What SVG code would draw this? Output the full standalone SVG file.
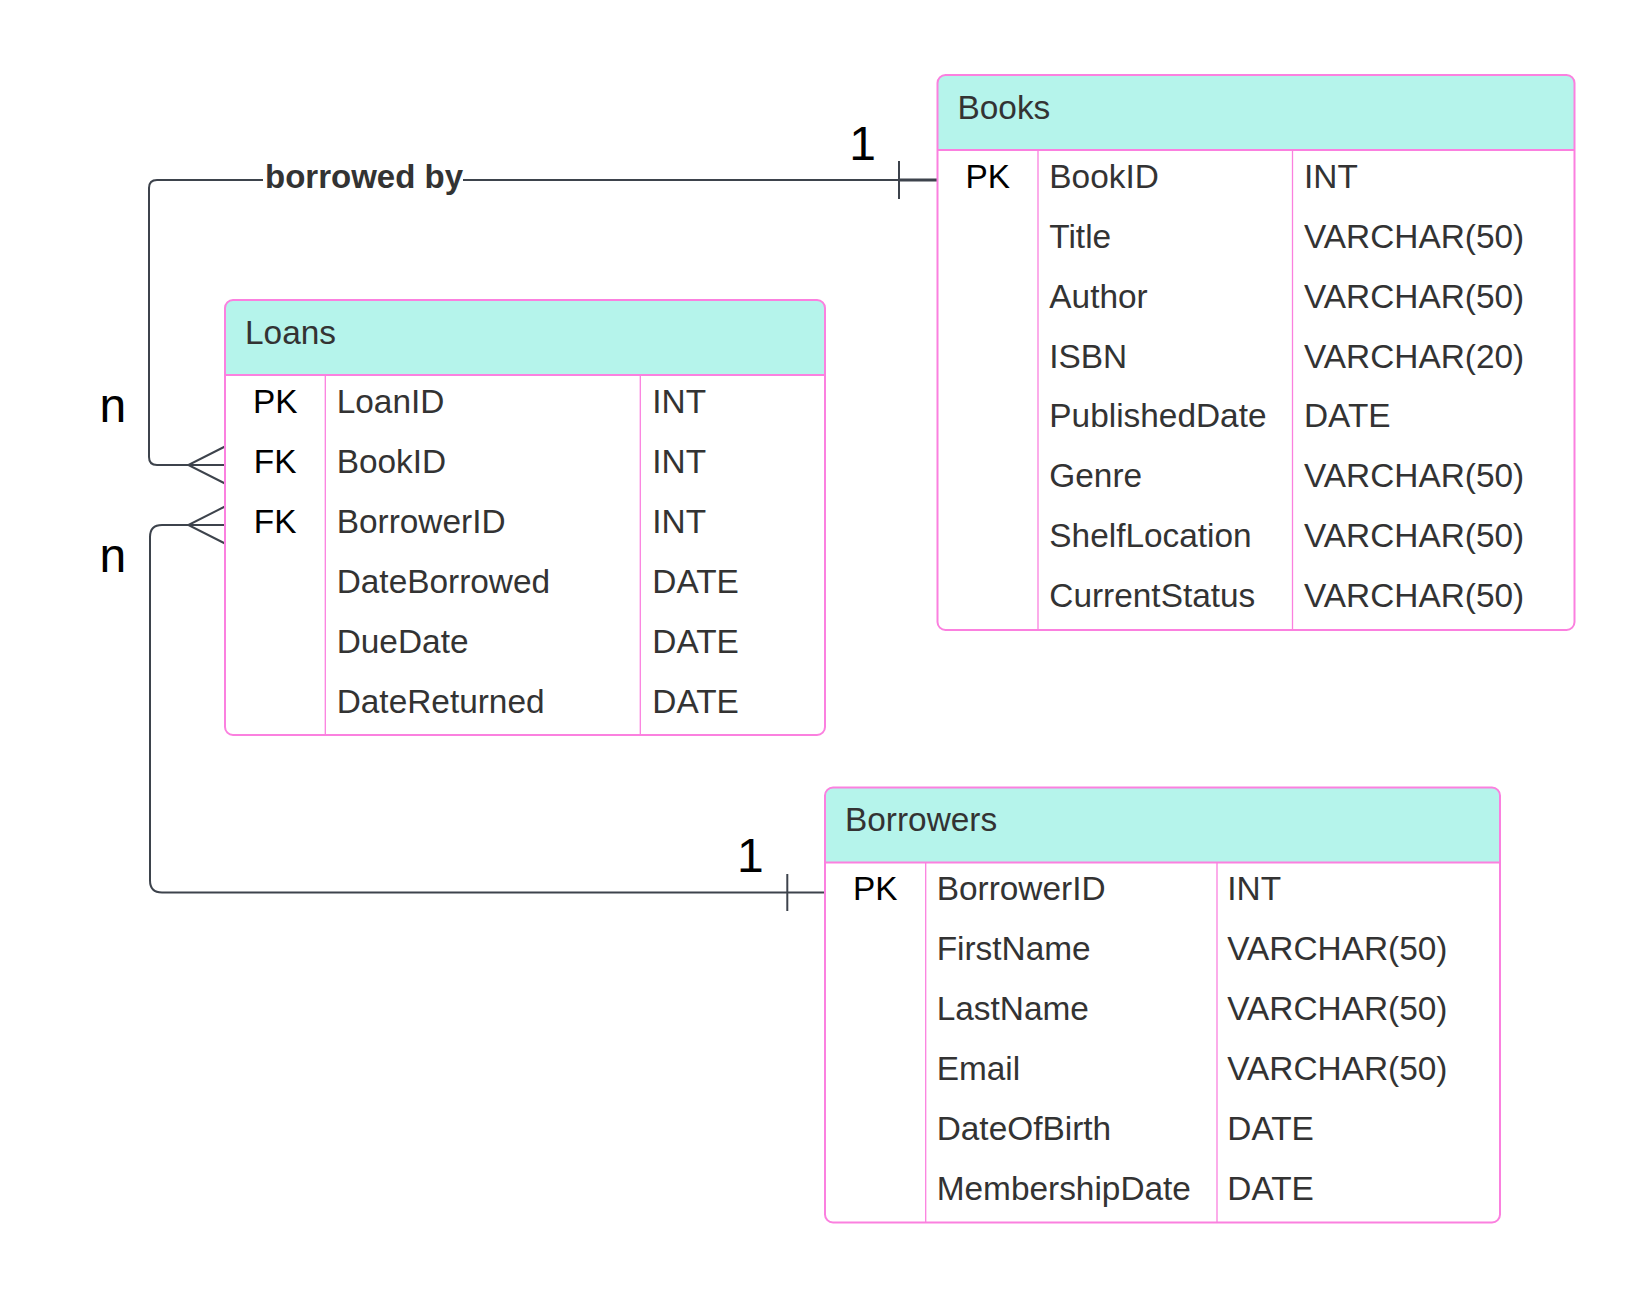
<svg xmlns="http://www.w3.org/2000/svg" width="1650" height="1298" viewBox="0 0 1650 1298">
<style>
.box{fill:#ffffff;stroke:none}
.frame{fill:none;stroke:#fb80df;stroke-width:2}
.hdr{fill:#b5f4eb;stroke:none}
.hline{stroke:#fb80df;stroke-width:2}
.col{stroke:#fb80df;stroke-width:1.3}
.title{font-family:"Liberation Sans",Arial,sans-serif;font-size:33.4px;fill:#333333}
.key{font-family:"Liberation Sans",Arial,sans-serif;font-size:33.4px;fill:#000000;text-anchor:middle}
.cell{font-family:"Liberation Sans",Arial,sans-serif;font-size:33.4px;fill:#333333}
.conn{fill:none;stroke:#3d434c;stroke-width:2;stroke-linecap:butt}
.end{fill:none;stroke:#3d434c;stroke-width:3}
.card{font-family:"Liberation Sans",Arial,sans-serif;font-size:48px;fill:#000000}
.lbl{font-family:"Liberation Sans",Arial,sans-serif;font-size:33px;font-weight:bold;fill:#333333;text-anchor:middle}
</style>
<rect x="0" y="0" width="1650" height="1298" fill="#ffffff"/>

<g id="connectors">
  <!-- Books to Loans -->
  <path class="conn" d="M899,180 H157 Q149,180 149,188 V457 Q149,465 157,465 H225"/>
  <path class="end" d="M899,180 H937.5"/>
  <path class="conn" d="M899,161 V199"/>
  <path class="conn" d="M225,446.5 L188.3,465 L225,483.5"/>
  <rect x="263" y="160" width="200" height="36" fill="#ffffff"/>
  <text class="lbl" x="364" y="188.3">borrowed by</text>
  <text class="card" x="862.5" y="160" text-anchor="middle">1</text>
  <text class="card" x="99.5" y="421.7">n</text>
  <!-- Borrowers to Loans -->
  <path class="conn" d="M825,892.5 H162 Q150,892.5 150,880.5 V537 Q150,525 162,525 H225"/>
  <path class="conn" d="M787.3,874 V911"/>
  <path class="conn" d="M225,506.5 L188.3,525 L225,543.5"/>
  <text class="card" x="750.3" y="872.3" text-anchor="middle">1</text>
  <text class="card" x="99.5" y="571.7">n</text>
</g>

<g id="books">
  <rect class="box" x="937.5" y="75" width="637" height="555" rx="8"/>
  <path class="hdr" d="M937.5,150 V83 Q937.5,75 945.5,75 H1566.5 Q1574.5,75 1574.5,83 V150 Z"/>
  <line class="hline" x1="937.5" y1="150" x2="1574.5" y2="150"/>
  <line class="col" x1="1038" y1="150" x2="1038" y2="630"/>
  <line class="col" x1="1292.5" y1="150" x2="1292.5" y2="630"/>
  <rect class="frame" x="937.5" y="75" width="637" height="555" rx="8"/>
  <text class="title" x="957.5" y="119">Books</text>
  <text class="key" x="987.8" y="187.5">PK</text>
  <text class="cell" x="1049.3" y="187.5">BookID</text>
  <text class="cell" x="1304" y="187.5">INT</text>
  <text class="cell" x="1049.3" y="247.5">Title</text>
  <text class="cell" x="1304" y="247.5">VARCHAR(50)</text>
  <text class="cell" x="1049.3" y="307.5">Author</text>
  <text class="cell" x="1304" y="307.5">VARCHAR(50)</text>
  <text class="cell" x="1049.3" y="367.5">ISBN</text>
  <text class="cell" x="1304" y="367.5">VARCHAR(20)</text>
  <text class="cell" x="1049.3" y="427">PublishedDate</text>
  <text class="cell" x="1304" y="427">DATE</text>
  <text class="cell" x="1049.3" y="487">Genre</text>
  <text class="cell" x="1304" y="487">VARCHAR(50)</text>
  <text class="cell" x="1049.3" y="547">ShelfLocation</text>
  <text class="cell" x="1304" y="547">VARCHAR(50)</text>
  <text class="cell" x="1049.3" y="607">CurrentStatus</text>
  <text class="cell" x="1304" y="607">VARCHAR(50)</text>
</g>

<g id="loans">
  <rect class="box" x="225" y="300" width="600" height="435" rx="8"/>
  <path class="hdr" d="M225,375 V308 Q225,300 233,300 H817 Q825,300 825,308 V375 Z"/>
  <line class="hline" x1="225" y1="375" x2="825" y2="375"/>
  <line class="col" x1="325.3" y1="375" x2="325.3" y2="735"/>
  <line class="col" x1="640.3" y1="375" x2="640.3" y2="735"/>
  <rect class="frame" x="225" y="300" width="600" height="435" rx="8"/>
  <text class="title" x="245" y="344">Loans</text>
  <text class="key" x="275.2" y="412.5">PK</text>
  <text class="cell" x="336.7" y="412.5">LoanID</text>
  <text class="cell" x="652.3" y="412.5">INT</text>
  <text class="key" x="275.2" y="472.5">FK</text>
  <text class="cell" x="336.7" y="472.5">BookID</text>
  <text class="cell" x="652.3" y="472.5">INT</text>
  <text class="key" x="275.2" y="532.5">FK</text>
  <text class="cell" x="336.7" y="532.5">BorrowerID</text>
  <text class="cell" x="652.3" y="532.5">INT</text>
  <text class="cell" x="336.7" y="592.5">DateBorrowed</text>
  <text class="cell" x="652.3" y="592.5">DATE</text>
  <text class="cell" x="336.7" y="652.5">DueDate</text>
  <text class="cell" x="652.3" y="652.5">DATE</text>
  <text class="cell" x="336.7" y="712.5">DateReturned</text>
  <text class="cell" x="652.3" y="712.5">DATE</text>
</g>

<g id="borrowers">
  <rect class="box" x="825" y="787.5" width="675" height="435" rx="8"/>
  <path class="hdr" d="M825,862.5 V795.5 Q825,787.5 833,787.5 H1492 Q1500,787.5 1500,795.5 V862.5 Z"/>
  <line class="hline" x1="825" y1="862.5" x2="1500" y2="862.5"/>
  <line class="col" x1="925.7" y1="862.5" x2="925.7" y2="1222.5"/>
  <line class="col" x1="1217" y1="862.5" x2="1217" y2="1222.5"/>
  <rect class="frame" x="825" y="787.5" width="675" height="435" rx="8"/>
  <text class="title" x="845" y="831">Borrowers</text>
  <text class="key" x="875.3" y="899.5">PK</text>
  <text class="cell" x="936.7" y="899.5">BorrowerID</text>
  <text class="cell" x="1227.3" y="899.5">INT</text>
  <text class="cell" x="936.7" y="959.5">FirstName</text>
  <text class="cell" x="1227.3" y="959.5">VARCHAR(50)</text>
  <text class="cell" x="936.7" y="1019.5">LastName</text>
  <text class="cell" x="1227.3" y="1019.5">VARCHAR(50)</text>
  <text class="cell" x="936.7" y="1079.5">Email</text>
  <text class="cell" x="1227.3" y="1079.5">VARCHAR(50)</text>
  <text class="cell" x="936.7" y="1139.5">DateOfBirth</text>
  <text class="cell" x="1227.3" y="1139.5">DATE</text>
  <text class="cell" x="936.7" y="1199.5">MembershipDate</text>
  <text class="cell" x="1227.3" y="1199.5">DATE</text>
</g>
</svg>
